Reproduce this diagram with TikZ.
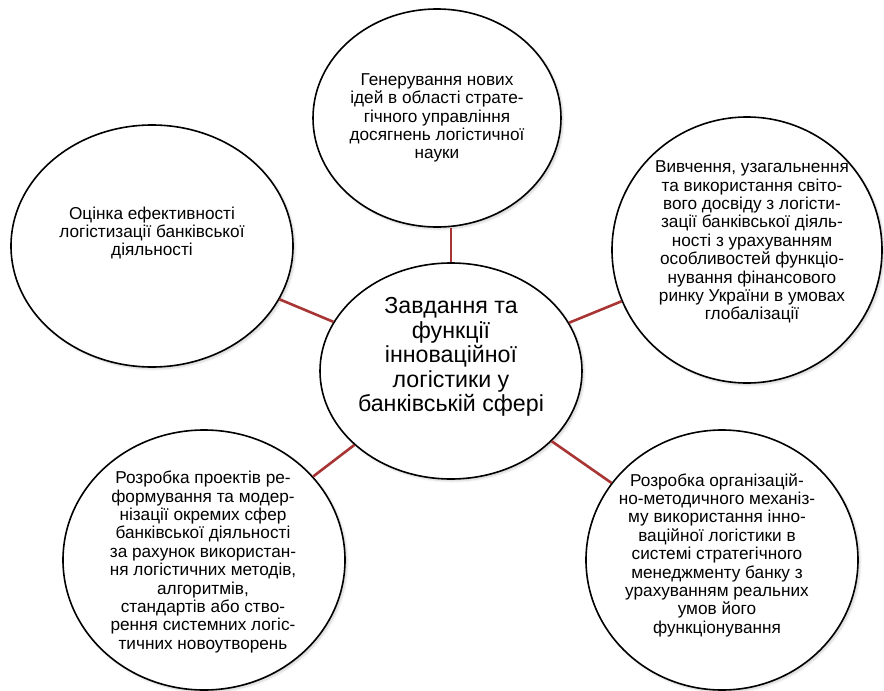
\documentclass[tikz,border=0pt]{standalone}
\usepackage{fontspec}
\setmainfont{Liberation Sans}
\usetikzlibrary{shapes.geometric,shadows.blur}
\definecolor{linkred}{RGB}{168,52,52}
\begin{document}
\begin{tikzpicture}[x=1pt,y=-1pt,
  bubble/.style={ellipse,draw=black,line width=1.6pt,fill=white,inner sep=0pt,
    blur shadow={shadow xshift=2pt,shadow yshift=-2pt,shadow opacity=18,shadow blur steps=6}},
  txt/.style={align=center,inner sep=0pt,font=\fontsize{17.2}{18.4}\selectfont},
  hubtxt/.style={align=center,inner sep=0pt,font=\fontsize{23.2}{24.6}\selectfont},
  link/.style={draw=linkred,line width=2.6pt}]
\useasboundingbox (0,0) rectangle (884,691);

% ellipses
\node[bubble,minimum width=262pt,minimum height=216pt] (hub)   at (451,371) {};
\node[bubble,minimum width=248pt,minimum height=218pt] (top)   at (437,118) {};
\node[bubble,minimum width=282pt,minimum height=242pt] (left)  at (152,246) {};
\node[bubble,minimum width=270pt,minimum height=266pt] (right) at (747,250) {};
\node[bubble,minimum width=272pt,minimum height=260pt] (br)    at (722,560) {};
\node[bubble,minimum width=282pt,minimum height=260pt] (bl)    at (204,560) {};

% connectors
\draw[link] (hub.north) -- (hub.north |- top.south);
\draw[link] (hub) -- (left);
\draw[link] (hub) -- (right);
\draw[link] (hub) -- (br);
\draw[link] (hub) -- (bl);

% texts
\node[hubtxt] (hubtext) at (451,357) {Завдання та\\функції\\інноваційної\\логістики у\\банківській сфері};
\node[txt] (toptext) at (437,118) {Генерування нових\\ідей в області страте-\\гічного управління\\досягнень логістичної\\науки};
\node[txt] (lefttext) at (152,233) {Оцінка ефективності\\логістизації банківської\\діяльності};
\node[txt] (righttext) at (752,242) {Вивчення, узагальнення\\та використання світо-\\вого досвіду з логісти-\\зації банківської діяль-\\ності з урахуванням\\особливостей функціо-\\нування фінансового\\ринку України в умовах\\глобалізації};
\node[txt] (brtext) at (717,555) {Розробка організацій-\\но-методичного механіз-\\му використання інно-\\ваційної логістики в\\системі стратегічного\\менеджменту банку з\\урахуванням реальних\\умов його\\функціонування};
\node[txt] (bltext) at (203,562) {Розробка проектів ре-\\формування та модер-\\нізації окремих сфер\\банківської діяльності\\за рахунок використан-\\ня логістичних методів,\\алгоритмів,\\стандартів або ство-\\рення системних логіс-\\тичних новоутворень};
\end{tikzpicture}
\end{document}
